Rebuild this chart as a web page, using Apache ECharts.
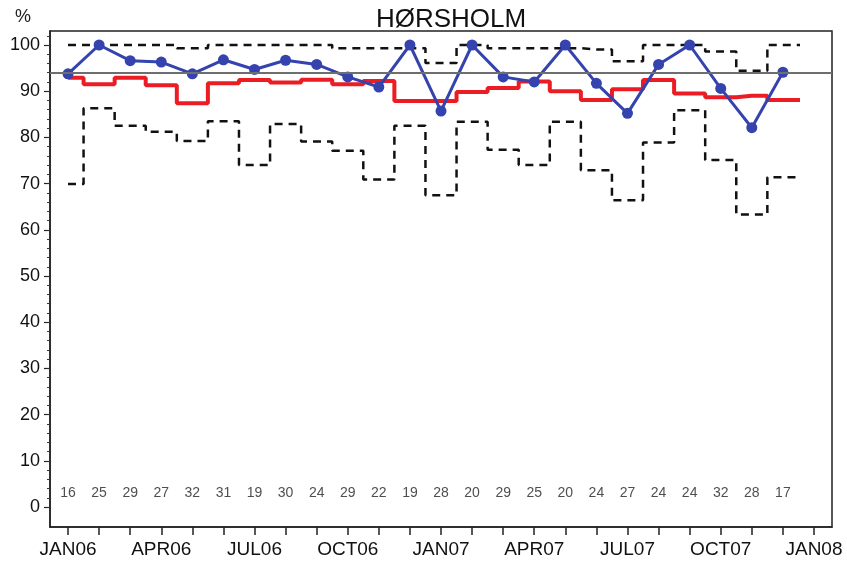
<!DOCTYPE html>
<html>
<head>
<meta charset="utf-8">
<script src="https://cdn.jsdelivr.net/npm/echarts@6/dist/echarts.min.js"></script>
<style>
html,body{margin:0;padding:0;background:#fff;}
#chart{width:847px;height:572px;}
</style>
</head>
<body>
<div id="chart"></div>
<script>
// Month index 0 = JAN06 ... 23 = DEC07
const months = ['JAN06','FEB06','MAR06','APR06','MAY06','JUN06','JUL06','AUG06','SEP06','OCT06','NOV06','DEC06',
                'JAN07','FEB07','MAR07','APR07','MAY07','JUN07','JUL07','AUG07','SEP07','OCT07','NOV07','DEC07'];
const tickLabels = ['JAN06','APR06','JUL06','OCT06','JAN07','APR07','JUL07','OCT07','JAN08'];
const observed = [93.75, 100, 96.6, 96.3, 93.75, 96.8, 94.7, 96.7, 95.8, 93.1, 90.9, 100,
                  85.7, 100, 93.1, 92.0, 100, 91.7, 85.2, 95.8, 100, 90.6, 82.1, 94.1];
const expected = [92.9, 91.5, 92.9, 91.3, 87.4, 91.7, 92.4, 91.9, 92.5, 91.5, 92.2, 87.9,
                  87.9, 89.8, 90.7, 92.1, 90.0, 88.1, 90.4, 92.4, 89.5, 88.7, 89.0, 88.1];
const upperLimit = [100, 100, 100, 100, 99.3, 100, 100, 100, 100, 99.3, 99.3, 99.3,
                    96.1, 100, 99.3, 99.3, 99.3, 99.0, 96.5, 100, 100, 98.6, 94.4, 100];
const lowerLimit = [69.9, 86.3, 82.5, 81.2, 79.2, 83.5, 74.0, 82.9, 79.1, 77.1, 70.9, 82.5,
                    67.5, 83.4, 77.3, 74.0, 83.4, 72.9, 66.4, 78.9, 85.9, 75.1, 63.3, 71.4];
const counts = [16, 25, 29, 27, 32, 31, 19, 30, 24, 29, 22, 19, 28, 20, 29, 25, 20, 24, 27, 24, 24, 32, 28, 17];
const standard = 94;
const yLabels = [0, 10, 20, 30, 40, 50, 60, 70, 80, 90, 100];

const pts = arr => arr.map((v, i) => [i, v]);
// step lines extend half a month past the last point
const stepPts = arr => pts(arr).concat([[arr.length - 1 + 0.55, arr[arr.length - 1]]]);

const xMin = -0.58, xMax = 24.58, yMin = -4.33, yMax = 103.03;
const font = 'Liberation Sans, Arial, sans-serif';
const xTickVals = Array.from({length: 25}, (_, i) => i);
const xLabelVals = tickLabels.map((_, i) => i * 3);
const yMinor = [];
for (let v = 0; v <= 102; v += 2) yMinor.push(v);

const chart = echarts.init(document.getElementById('chart'), null, {renderer: 'canvas'});
chart.setOption({
  animation: false,
  backgroundColor: '#ffffff',
  title: {
    text: 'HØRSHOLM', left: 446, top: 2, textAlign: 'center',
    textStyle: {fontFamily: font, fontWeight: 'normal', fontSize: 26, color: '#111'}
  },
  graphic: [{
    type: 'text', left: 15, top: 8,
    style: {text: '%', font: '18px ' + font, fill: '#222'}
  }],
  grid: {left: 50, right: 15, top: 31, bottom: 45, show: true, borderColor: '#222', borderWidth: 1.5, backgroundColor: 'transparent'},
  xAxis: [{
    type: 'value', min: xMin, max: xMax,
    axisLine: {show: true, onZero: false, lineStyle: {color: '#222', width: 1.5}},
    axisTick: {show: true, customValues: xTickVals, length: 8, inside: false, lineStyle: {color: '#222', width: 1.5}},
    axisLabel: {
      show: true, customValues: xLabelVals, margin: 13,
      fontFamily: font, fontSize: 19, color: '#111',
      formatter: v => tickLabels[Math.round(v / 3)] || ''
    },
    splitLine: {show: false}
  }],
  yAxis: [{
    type: 'value', min: yMin, max: yMax,
    axisLine: {show: true, onZero: false, lineStyle: {color: '#222', width: 1.5}},
    axisTick: {show: true, customValues: yLabels, length: 6, lineStyle: {color: '#222', width: 1.2}},
    axisLabel: {show: true, customValues: yLabels, margin: 10, fontFamily: font, fontSize: 18, color: '#111'},
    splitLine: {show: false}
  }, {
    type: 'value', min: yMin, max: yMax, position: 'left', offset: 0,
    axisLine: {show: false, onZero: false},
    axisTick: {show: true, customValues: yMinor, length: 3, lineStyle: {color: '#333', width: 1}},
    axisLabel: {show: false},
    splitLine: {show: false}
  }],
  series: [
    {
      name: 'upper', type: 'line', step: 'middle', data: stepPts(upperLimit), showSymbol: false, symbol: 'none',
      lineStyle: {color: '#111', width: 2.5, type: [8, 6]}, z: 2,
      markLine: {
        silent: true, symbol: 'none', label: {show: false},
        lineStyle: {color: '#6e6e6e', width: 1.8, type: 'solid'},
        data: [{yAxis: standard}]
      }
    },
    {
      name: 'lower', type: 'line', step: 'middle', data: stepPts(lowerLimit), showSymbol: false, symbol: 'none',
      lineStyle: {color: '#111', width: 2.5, type: [8, 6]}, z: 2
    },
    {
      name: 'expected', type: 'line', step: 'middle', data: stepPts(expected), showSymbol: false, symbol: 'none',
      lineStyle: {color: '#ec1c24', width: 4}, z: 3
    },
    {
      name: 'observed', type: 'line', data: pts(observed), symbol: 'circle', symbolSize: 11,
      itemStyle: {color: '#3443ad'}, lineStyle: {color: '#3443ad', width: 3}, z: 4
    },
    {
      name: 'n', type: 'scatter', data: counts.map((c, i) => [i, 3.0, c]), symbolSize: 0,
      label: {show: true, position: 'inside', formatter: p => String(p.value[2]), fontFamily: font, fontSize: 14, color: '#222'},
      z: 5, silent: true
    }
  ]
});
</script>
</body>
</html>
